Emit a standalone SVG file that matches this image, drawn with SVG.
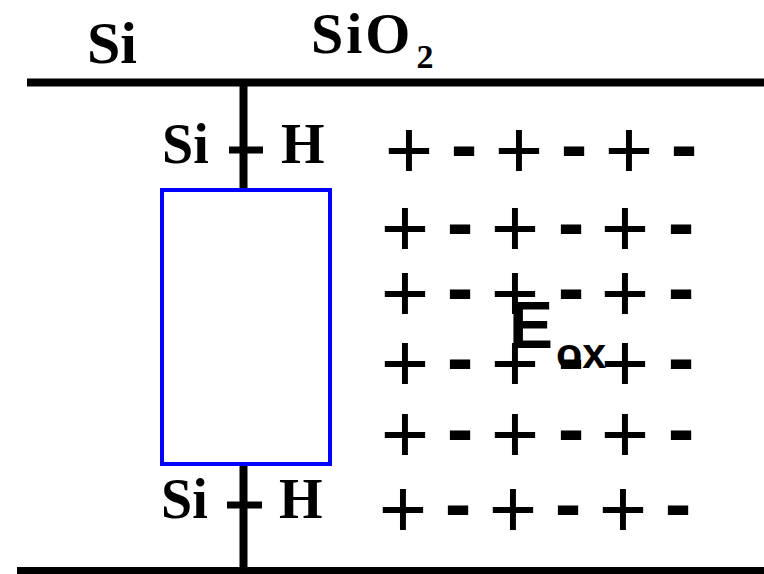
<svg xmlns="http://www.w3.org/2000/svg" width="764" height="574" viewBox="0 0 764 574">
<style>
.lbl{font-family:"Liberation Serif","Times New Roman",serif;font-weight:bold;fill:#000}
.p{font-family:"Liberation Sans",Arial,sans-serif;font-size:83px;fill:#000;text-anchor:middle}
.m{font-family:"Liberation Sans",Arial,sans-serif;font-size:80px;font-weight:bold;fill:#000;text-anchor:middle}
.eox{font-family:"Liberation Sans",Arial,sans-serif;font-weight:bold;fill:#000}
.bar{stroke:#000;stroke-width:8;fill:none}
</style>
<rect width="764" height="574" fill="#fff"/>
<g id="labels">
<text class="lbl" x="87" y="63" font-size="60">Si</text>
<text class="lbl" x="311" y="53" font-size="58" letter-spacing="3">SiO<tspan font-size="34" dy="15" dx="3" letter-spacing="0">2</tspan></text>
</g>
<g id="connectors">
<line class="bar" x1="27" y1="82.5" x2="764" y2="82.5"/>
<line class="bar" x1="17" y1="571" x2="764" y2="571"/>
<line class="bar" x1="243.5" y1="82" x2="243.5" y2="190"/>
<line class="bar" x1="243.5" y1="464" x2="243.5" y2="571"/>
<rect x="229" y="146.5" width="34" height="7" fill="#000"/>
<rect x="227" y="501.5" width="35" height="7" fill="#000"/>
</g>
<g id="sih-top">
<text class="lbl" x="162" y="163" font-size="56">Si</text>
<text class="lbl" x="281" y="163" font-size="56">H</text>
</g>
<g id="sih-bottom">
<text class="lbl" x="161" y="518" font-size="56">Si</text>
<text class="lbl" x="279" y="518" font-size="56">H</text>
</g>
<g id="box">
<rect x="162" y="190" width="168" height="274" fill="#fff" stroke="#0000ff" stroke-width="4"/>
</g>
<g id="charges">
<text class="p" x="409" y="178">+</text><text class="m" x="464" y="172">-</text><text class="p" x="519" y="178">+</text><text class="m" x="574" y="172">-</text><text class="p" x="629" y="178">+</text><text class="m" x="684" y="172">-</text>
<text class="p" x="405" y="256">+</text><text class="m" x="460" y="250">-</text><text class="p" x="515" y="256">+</text><text class="m" x="571" y="250">-</text><text class="p" x="625" y="256">+</text><text class="m" x="681" y="250">-</text>
<text class="p" x="405" y="321">+</text><text class="m" x="460" y="315">-</text><text class="p" x="515" y="321">+</text><text class="m" x="571" y="315">-</text><text class="p" x="625" y="321">+</text><text class="m" x="681" y="315">-</text>
<text class="p" x="405" y="391">+</text><text class="m" x="460" y="385">-</text><text class="p" x="515" y="391">+</text><text class="m" x="571" y="385">-</text><text class="p" x="625" y="391">+</text><text class="m" x="681" y="385">-</text>
<text class="p" x="405" y="462">+</text><text class="m" x="460" y="456">-</text><text class="p" x="515" y="462">+</text><text class="m" x="571" y="456">-</text><text class="p" x="625" y="462">+</text><text class="m" x="681" y="456">-</text>
<text class="p" x="403" y="537">+</text><text class="m" x="458" y="531">-</text><text class="p" x="513" y="537">+</text><text class="m" x="568" y="531">-</text><text class="p" x="623" y="537">+</text><text class="m" x="678" y="531">-</text>
</g>
<g id="eox">
<text class="eox" x="509" y="348" font-size="66">E<tspan font-size="43" dy="20" dx="3">ox</tspan></text>
</g>
</svg>
